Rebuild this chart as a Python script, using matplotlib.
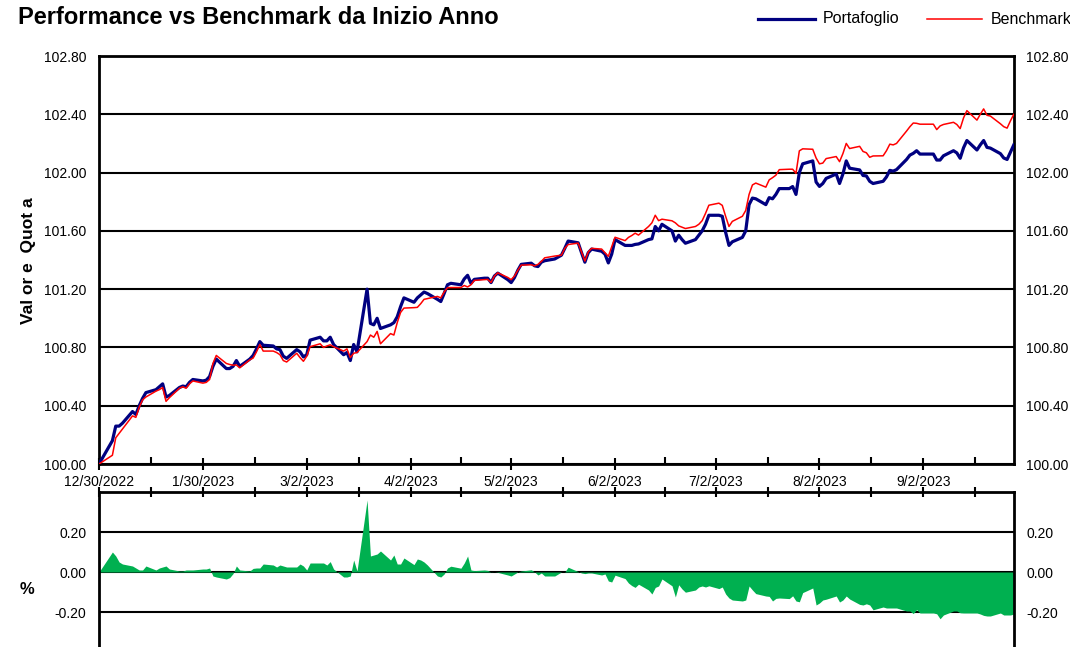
"""Performance vs Benchmark YTD chart."""

import matplotlib

matplotlib.use("Agg")

import matplotlib.pyplot as plt
from matplotlib.lines import Line2D
from matplotlib.ticker import FixedLocator, FormatStrFormatter
import numpy as np
import pandas as pd

plt.rcParams["font.family"] = ["Liberation Sans", "DejaVu Sans"]

# one value per business day, 12/30/2022 .. 9/29/2023
dates = pd.bdate_range("2022-12-30", "2023-09-29")

portafoglio = [
    100.00,
    100.12, 100.16, 100.26, 100.26, 100.28,
    100.36, 100.34, 100.40, 100.45, 100.49,
    100.51, 100.53, 100.55, 100.46, 100.47,
    100.525, 100.535, 100.53, 100.56, 100.58,
    100.57, 100.575, 100.60, 100.67, 100.72,
    100.655, 100.655, 100.67, 100.71, 100.67,
    100.72, 100.745, 100.79, 100.84, 100.815,
    100.81, 100.79, 100.785, 100.74, 100.725,
    100.785, 100.77, 100.735, 100.75, 100.85,
    100.87, 100.845, 100.845, 100.87, 100.82,
    100.75, 100.765, 100.71, 100.82, 100.77,
    101.20, 100.965, 100.955, 101.00, 100.93,
    100.955, 100.97, 101.01, 101.08, 101.14,
    101.11, 101.14, 101.16, 101.18, 101.17,
    101.13, 101.115, 101.17, 101.23, 101.24,
    101.23, 101.27, 101.295, 101.24, 101.267,
    101.275, 101.275, 101.245, 101.29, 101.31,
    101.265, 101.245, 101.28, 101.33, 101.37,
    101.378, 101.36, 101.355, 101.385, 101.395,
    101.407, 101.42, 101.433, 101.48, 101.53,
    101.518, 101.45, 101.385, 101.45, 101.475,
    101.46, 101.44, 101.38, 101.44, 101.54,
    101.50, 101.50, 101.50, 101.507, 101.51,
    101.54, 101.545, 101.63, 101.60, 101.645,
    101.60, 101.53, 101.57, 101.54, 101.515,
    101.54, 101.57, 101.60, 101.645, 101.707,
    101.707, 101.70, 101.59, 101.50, 101.525,
    101.555, 101.60, 101.78, 101.825, 101.82,
    101.78, 101.828, 101.82, 101.85, 101.89,
    101.89, 101.904, 101.85, 102.00, 102.06,
    102.08, 101.935, 101.905, 101.925, 101.96,
    101.99, 101.925, 101.99, 102.08, 102.03,
    102.018, 101.98, 101.977, 101.94, 101.925,
    101.94, 101.97, 102.015, 102.01, 102.02,
    102.09, 102.12, 102.132, 102.15, 102.127,
    102.127, 102.127, 102.086, 102.086, 102.115,
    102.15, 102.135, 102.098, 102.17, 102.22,
    102.155, 102.19, 102.22, 102.173, 102.168,
    102.13, 102.10, 102.09, 102.14, 102.19,
]

benchmark = [
    100.00,
    100.045, 100.06, 100.18, 100.21, 100.24,
    100.33, 100.32, 100.39, 100.44, 100.46,
    100.50, 100.51, 100.525, 100.43, 100.455,
    100.52, 100.53, 100.52, 100.55, 100.57,
    100.555, 100.56, 100.58, 100.69, 100.745,
    100.69, 100.683, 100.678, 100.68, 100.66,
    100.715, 100.727, 100.77, 100.82, 100.775,
    100.775, 100.765, 100.75, 100.71, 100.70,
    100.76, 100.73, 100.705, 100.74, 100.805,
    100.825, 100.80, 100.81, 100.818, 100.805,
    100.775, 100.79, 100.73, 100.76, 100.765,
    100.84, 100.885, 100.87, 100.91, 100.825,
    100.895, 100.885, 100.97, 101.04, 101.07,
    101.073, 101.075, 101.10, 101.13, 101.135,
    101.15, 101.14, 101.18, 101.21, 101.211,
    101.211, 101.225, 101.215, 101.23, 101.26,
    101.265, 101.267, 101.246, 101.29, 101.312,
    101.28, 101.265, 101.29, 101.33, 101.365,
    101.367, 101.36, 101.37, 101.39, 101.415,
    101.427, 101.43, 101.433, 101.48, 101.506,
    101.516, 101.455, 101.393, 101.455, 101.48,
    101.475, 101.45, 101.425, 101.49, 101.556,
    101.533, 101.555, 101.568, 101.584, 101.571,
    101.63, 101.655, 101.707, 101.67, 101.68,
    101.669, 101.655, 101.634, 101.625, 101.616,
    101.63, 101.645, 101.67, 101.72, 101.776,
    101.79, 101.775, 101.70, 101.63, 101.665,
    101.70, 101.74, 101.85, 101.915, 101.928,
    101.90, 101.95, 101.965, 101.982, 102.02,
    102.023, 102.023, 101.995, 102.149, 102.163,
    102.16, 102.10, 102.06, 102.065, 102.096,
    102.11, 102.075, 102.13, 102.20, 102.165,
    102.18, 102.145, 102.136, 102.105, 102.114,
    102.115, 102.15, 102.195, 102.19, 102.20,
    102.285, 102.315, 102.34, 102.338, 102.332,
    102.332, 102.332, 102.295, 102.32, 102.33,
    102.345, 102.33, 102.302, 102.375, 102.425,
    102.36, 102.40, 102.437, 102.393, 102.388,
    102.335, 102.315, 102.305, 102.355, 102.40,
]

tick_dates = pd.to_datetime([
    "2022-12-30", "2023-01-30", "2023-03-02", "2023-04-02", "2023-05-02",
    "2023-06-02", "2023-07-02", "2023-08-02", "2023-09-02",
])
tick_labels = [f"{d.month}/{d.day}/{d.year}" for d in tick_dates]
value_ticks = [100.00, 100.40, 100.80, 101.20, 101.60, 102.00, 102.40, 102.80]
diff_ticks = [-0.20, 0.00, 0.20]

BLUE = "#000080"
RED = "#FF0000"
GREEN = "#00B050"

W, H = 1070, 647
fig = plt.figure(figsize=(W / 100, H / 100), dpi=100)
ax = fig.add_axes([99 / W, 1 - 464 / H, 914.8 / W, 408 / H])
ax2 = fig.add_axes([99 / W, 1 - 652 / H, 914.8 / W, 160 / H])

p = np.array(portafoglio)
b = np.array(benchmark)

ax.plot(dates, p, color=BLUE, lw=2.3, zorder=3)
ax.plot(dates, b, color=RED, lw=1.1, zorder=4)
ax.set_xlim(dates[0], dates[-1])
ax.set_ylim(100.0, 102.8)
ax.set_yticks(value_ticks)
ax.yaxis.set_major_formatter(FormatStrFormatter("%.2f"))
ax.set_axisbelow(True)
ax.grid(axis="y", color="black", lw=1.5)

# minor ticks halfway between monthly ticks
mids = list(tick_dates[:-1] + (tick_dates[1:] - tick_dates[:-1]) / 2)
mids.append(tick_dates[-1] + pd.Timedelta(days=15.5))
tnum = matplotlib.dates.date2num(tick_dates)
mnum = matplotlib.dates.date2num(pd.DatetimeIndex(mids))

ax.xaxis.set_major_locator(FixedLocator(tnum))
ax.xaxis.set_minor_locator(FixedLocator(mnum))
ax.set_xticklabels(tick_labels)
ax.tick_params(axis="x", which="major", direction="inout", length=8, width=1.5, pad=4, labelsize=10)
ax.tick_params(axis="x", which="minor", direction="in", length=5, width=1.5)
ax.tick_params(axis="y", length=0, labelsize=10, labelright=True, pad=9)

diff = p - b
ax2.fill_between(dates, diff, 0, color=GREEN, lw=0, zorder=2)
ax2.set_xlim(dates[0], dates[-1])
ax2.set_ylim(-0.4, 0.4)
ax2.set_yticks(diff_ticks)
ax2.yaxis.set_major_formatter(FormatStrFormatter("%.2f"))
ax2.set_axisbelow(True)
ax2.grid(axis="y", color="black", lw=1.5)
ax2.xaxis.tick_top()
ax2.xaxis.set_major_locator(FixedLocator(tnum))
ax2.xaxis.set_minor_locator(FixedLocator(mnum))
ax2.tick_params(axis="x", which="both", direction="inout", length=7, width=1.5, labeltop=False, labelbottom=False)
ax2.tick_params(axis="y", length=0, labelsize=10, labelright=True, pad=9)

for a in (ax, ax2):
    for s in a.spines.values():
        s.set_linewidth(2.0)

fig.text(18 / W, 1 - 18 / H, "Performance vs Benchmark da Inizio Anno",
         fontsize=17, fontweight="bold", ha="left", va="center")

fig.add_artist(Line2D([758 / W, 815 / W], [1 - 19 / H] * 2, color=BLUE, lw=2.3))
fig.text(823 / W, 1 - 19 / H, "Portafoglio", fontsize=11.5, ha="left", va="center")
fig.add_artist(Line2D([927 / W, 982 / W], [1 - 19 / H] * 2, color=RED, lw=1.1))
fig.text(991 / W, 1 - 19 / H, "Benchmark", fontsize=11.5, ha="left", va="center")

fig.text(28 / W, 1 - 261 / H, "Val or e  Quot a", rotation=90, fontsize=12.5,
         fontweight="bold", ha="center", va="center")
fig.text(27 / W, 1 - 590 / H, "%", fontsize=12, fontweight="bold", ha="center", va="center")

fig.savefig("out.png", dpi=100)
